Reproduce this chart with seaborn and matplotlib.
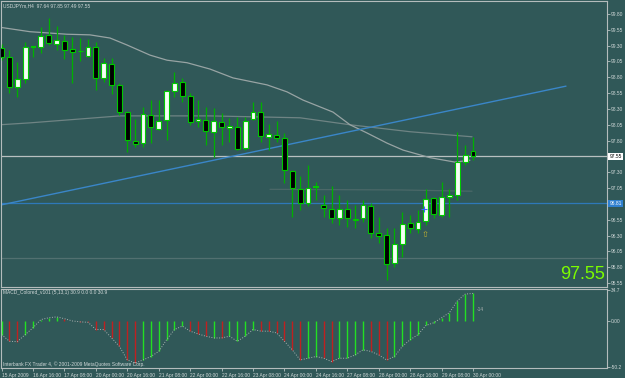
import matplotlib
matplotlib.use("Agg")
import matplotlib.pyplot as plt
import matplotlib.transforms as mtrans
import numpy as np
import pandas as pd
import seaborn as sns

# ---------------- data ----------------
bar_index = list(range(61))
opens = [99.26, 99.12, 98.65, 98.77, 99.28, 99.28, 99.47, 99.33, 99.37, 99.25, 99.22, 99.14, 99.28, 98.79, 99.01, 98.68,
         98.25, 97.79, 97.76, 98.20, 97.98, 98.13, 98.58, 98.73, 98.50, 98.11, 98.13, 97.94, 98.09, 98.00, 98.01, 97.68,
         98.14, 98.25, 97.86, 97.89, 97.84, 97.32, 97.03, 96.81, 97.07, 96.78, 96.72, 96.58, 96.72, 96.56, 96.58, 96.77,
         96.34, 96.31, 95.87, 96.17, 96.50, 96.40, 96.53, 96.89, 96.62, 96.91, 96.94, 97.46, 97.64]
closes = [99.12, 98.65, 98.77, 99.28, 99.29, 99.45, 99.34, 99.39, 99.23, 99.20, 99.21, 99.28, 98.79, 99.03, 98.68, 98.25,
          97.81, 97.75, 98.22, 98.01, 98.11, 98.58, 98.71, 98.50, 98.09, 98.14, 97.95, 98.11, 98.01, 98.03, 97.67, 98.11,
          98.25, 97.87, 97.90, 97.84, 97.34, 97.05, 96.81, 97.05, 97.08, 96.74, 96.58, 96.72, 96.58, 96.55, 96.78, 96.34,
          96.29, 95.85, 96.17, 96.48, 96.42, 96.51, 96.88, 96.64, 96.91, 96.94, 97.46, 97.57, 97.55]
highs = [99.33, 99.23, 99.04, 99.36, 99.30, 99.59, 99.74, 99.61, 99.47, 99.44, 99.42, 99.41, 99.36, 99.11, 99.11, 98.71,
         98.27, 98.14, 98.33, 98.44, 98.44, 98.60, 98.88, 98.79, 98.55, 98.44, 98.33, 98.31, 98.24, 98.16, 98.17, 98.17,
         98.41, 98.41, 98.06, 98.11, 97.92, 97.34, 97.24, 97.41, 97.15, 96.94, 97.08, 96.94, 96.86, 96.78, 96.86, 96.81,
         96.59, 96.42, 96.42, 96.67, 96.62, 96.70, 97.03, 96.91, 97.15, 97.03, 97.94, 97.73, 97.85]
lows = [99.07, 98.55, 98.49, 98.71, 99.12, 99.18, 99.31, 99.23, 99.09, 98.71, 99.06, 99.12, 98.60, 98.73, 98.54, 98.20,
        97.62, 97.70, 97.70, 97.76, 97.97, 97.81, 98.49, 98.41, 98.05, 98.01, 97.73, 97.54, 97.73, 97.78, 97.65, 97.65,
        98.13, 97.78, 97.65, 97.78, 97.13, 96.59, 96.70, 96.77, 96.86, 96.59, 96.50, 96.47, 96.44, 96.42, 96.51, 96.26,
        96.18, 95.60, 95.80, 95.96, 96.34, 96.34, 96.47, 96.58, 96.60, 96.59, 96.86, 97.41, 97.49]

ma1_x = [-0.2, 3.61, 8.32, 11.25, 13.8, 15.96, 18.89, 21.05, 23.6, 26.52, 29.45, 33.78, 36.32, 38.36, 42.18, 44.34,
         46.51, 49.05, 51.09, 54.52, 57.71, 59.6]
ma1_y = [99.59, 99.52, 99.48, 99.47, 99.42, 99.31, 99.15, 99.07, 99.03, 98.93, 98.79, 98.68, 98.57, 98.44, 98.25, 98.05,
         97.92, 97.76, 97.65, 97.53, 97.46, 97.49]
ma2_x = [-0.2, 3.61, 15.07, 26.52, 37.98, 44.34, 51.98, 59.87]
ma2_y = [98.05, 98.08, 98.19, 98.19, 98.16, 98.05, 97.94, 97.86]
ma3_x = [34.16, 50.7, 59.87]
ma3_y = [97.03, 97.02, 97.00]
trend_x = [-0.2, 71.83]
trend_y = [96.78, 98.66]
bid_price = 97.55
blue_level = 96.81
gray_level = 95.94

macd_hist = [-14.6, -22.0, -22.4, -14.6, -7.0, 2.0, 4.0, 5.0, 3.0, 0.5, -0.5, -1.0, -9.0, -9.0, -18.3, -27.6, -42.6,
             -46.0, -42.6, -38.8, -33.2, -20.2, -9.0, -5.2, -10.8, -13.8, -16.4, -18.3, -18.3, -16.4, -22.0, -16.4,
             -9.0, -10.8, -10.8, -12.7, -22.0, -31.4, -42.6, -40.7, -38.8, -40.7, -44.4, -40.7, -40.7, -37.0, -31.4,
             -33.2, -37.0, -42.6, -38.8, -27.6, -20.2, -14.6, -4.5, -1.5, 4.0, 9.7, 22.7, 30.2, 30.9]
macd_dir = list("grrggggg" "rrrr" "rrrrrr" "gggggg" "rrrgrg" "gggrrr" "rrrgg" "rrgggg" "rrr" "ggggggggggg")

price_ticks = [99.80, 99.55, 99.30, 99.05, 98.80, 98.55, 98.30, 98.05, 97.80, 97.30, 97.05, 96.55, 96.30, 96.05,
               95.80, 95.55]
macd_ticks = [34.7, 0.0, -50.2]
macd_tick_labels = ["34.7", "0.00", "-50.2"]
date_pos = [0, 4, 8, 12, 16, 20, 24, 28, 32, 36, 40, 44, 48, 52, 56, 60]
date_labels = ["15 Apr 2009", "16 Apr 16:00", "17 Apr 08:00", "20 Apr 00:00", "20 Apr 16:00", "21 Apr 08:00",
               "22 Apr 00:00", "22 Apr 16:00", "23 Apr 08:00", "24 Apr 00:00", "24 Apr 16:00", "27 Apr 08:00",
               "28 Apr 00:00", "28 Apr 16:00", "29 Apr 08:00", "30 Apr 00:00"]
title_text = "USDJPYm,H4  97.64 97.85 97.49 97.55"
macd_title = "MACD_Colored_v101 (5,13,1) 30.9 0.0 0.0 30.9"
copyright_text = "Interbank FX Trader 4, \u00a9 2001-2009 MetaQuotes Software Corp."
cross_x, cross_y = [53.8], [96.72]
arrow_x, arrow_y = [53.9], [96.31]

# ---------------- style ----------------
BG = '#305858'
EDGE = '#b4bcbc'
TXT = '#d0d8d8'
sns.set_style("dark", rc={"axes.facecolor": BG, "figure.facecolor": BG, "axes.edgecolor": EDGE,
                          "grid.color": BG, "axes.linewidth": 0.8})
plt.rcParams['font.family'] = ['Liberation Sans', 'DejaVu Sans']

W, H = 625, 378
fig = plt.figure(figsize=(W / 100, H / 100), dpi=100)


def rect(x0, y0, x1, y1):
    return [x0 / W, 1 - y1 / H, (x1 - x0) / W, (y1 - y0) / H]


ax = fig.add_axes(rect(1, 1, 607, 287))
axm = fig.add_axes(rect(1, 289, 607, 368))
xl = (-0.076, 77.05)

# ---------------- main price panel ----------------
df = pd.DataFrame(dict(idx=bar_index, open=opens, high=highs, low=lows, close=closes))
bull = df.close >= df.open

for lvl, col in [(bid_price, '#b8c0c0'), (blue_level, '#2e78b8'), (gray_level, '#527070')]:
    ax.axhline(lvl, color=col, lw=0.9, zorder=1)

sns.lineplot(x=ma2_x, y=ma2_y, ax=ax, color='#6f8484', lw=0.9, estimator=None, zorder=2)
sns.lineplot(x=ma3_x, y=ma3_y, ax=ax, color='#4b6868', lw=0.9, estimator=None, zorder=2)
sns.lineplot(x=ma1_x, y=ma1_y, ax=ax, color='#98a4a4', lw=0.9, estimator=None, zorder=2)
sns.lineplot(x=trend_x, y=trend_y, ax=ax, color='#3a86c8', lw=1.0, estimator=None, zorder=2)

ax.vlines(df.idx, df.low, df.high, color='#00b000', lw=0.9, zorder=3)
body_bottom = np.minimum(df.open, df.close)
body_h = np.maximum(np.abs(df.close - df.open), 0.012)
ax.bar(df.idx, body_h, bottom=body_bottom, width=0.62,
       color=np.where(bull, '#f4fff4', '#000000'), edgecolor='#00c800', linewidth=0.8, zorder=4)

ax.plot(cross_x, cross_y, marker='+', color='#4060ff', ms=4, mew=0.8, ls='none', zorder=5)
ax.text(arrow_x[0], arrow_y[0], "\u21e7", color='#c0b030', fontsize=6, ha='center', va='center',
        family=['DejaVu Sans'], zorder=5)

ax.set_xlim(*xl)
ax.set_ylim(95.487, 100.005)
ax.set_xticks([])
ax.yaxis.tick_right()
ax.set_yticks(price_ticks)
ax.set_yticklabels([f"{v:.2f}" for v in price_ticks])
ax.tick_params(axis='y', length=2, width=0.5, pad=1, labelsize=3.5, colors=TXT, direction='out', right=True)
ax.set_xlabel("")
ax.set_ylabel("")
for s in ax.spines.values():
    s.set_color(EDGE)
    s.set_linewidth(0.8)

tr = mtrans.blended_transform_factory(ax.transAxes, ax.transData)
ax.text(1.004, bid_price, f"{bid_price:.2f}", transform=tr, fontsize=3.5, color='black', va='center', ha='left',
        bbox=dict(fc='white', ec='none', pad=0.8), clip_on=False, zorder=6)
ax.text(1.004, blue_level, f"{blue_level:.2f}", transform=tr, fontsize=3.5, color='white', va='center', ha='left',
        bbox=dict(fc='#2f80d0', ec='none', pad=0.8), clip_on=False, zorder=6)
ax.text(0.004, 0.983, title_text, transform=ax.transAxes, fontsize=3.5, color=TXT, va='center', ha='left')
ax.text(0.997, 0.045, f"{bid_price:.2f}", transform=ax.transAxes, fontsize=13, color='#7CFC00',
        va='center', ha='right')

# ---------------- MACD panel ----------------
mcol = ['#22e022' if d == 'g' else '#c02020' for d in macd_dir]
axm.vlines(bar_index, 0, macd_hist, colors=mcol, lw=1.0, zorder=3)
sns.lineplot(x=bar_index, y=macd_hist, ax=axm, color='#a8b0b0', lw=0.7, linestyle=':', estimator=None, zorder=4)
axm.text(60.5, 13.4, "-14", fontsize=3.5, color='#a8b0b0', va='center', ha='left')
axm.set_xlim(*xl)
axm.set_ylim(-51.5, 35.8)
axm.yaxis.tick_right()
axm.set_yticks(macd_ticks)
axm.set_yticklabels(macd_tick_labels)
axm.tick_params(axis='y', length=2, width=0.5, pad=1, labelsize=3.5, colors=TXT, direction='out', right=True)
axm.set_xticks(date_pos)
axm.set_xticklabels(date_labels)
axm.tick_params(axis='x', length=2, width=0.5, pad=1.5, labelsize=3.5, colors=TXT, direction='out', bottom=True)
for lbl in axm.get_xticklabels():
    lbl.set_ha('left')
axm.set_xlabel("")
axm.set_ylabel("")
for s in axm.spines.values():
    s.set_color(EDGE)
    s.set_linewidth(0.8)
axm.text(0.004, 0.95, macd_title, transform=axm.transAxes, fontsize=3.5, color=TXT, va='center', ha='left')
axm.text(0.004, 0.05, copyright_text, transform=axm.transAxes, fontsize=3.5, color=TXT, va='center', ha='left')

fig.savefig("out.png", dpi=100, facecolor=BG)
